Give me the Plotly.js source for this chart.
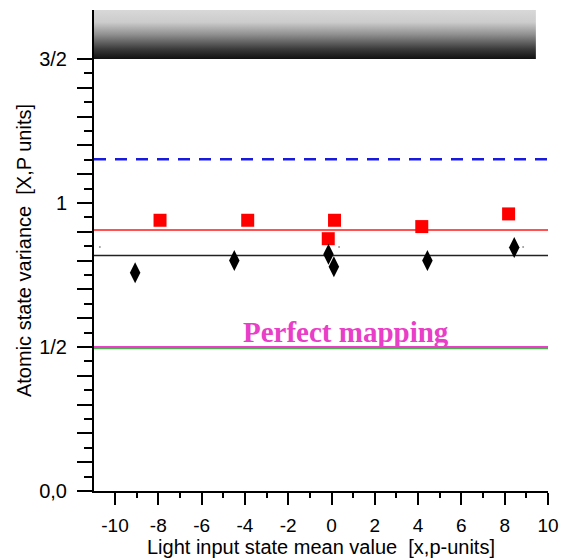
<!DOCTYPE html>
<html><head><meta charset="utf-8">
<script src="https://cdn.plot.ly/plotly-3.0.1.min.js"></script>
<style>html,body{margin:0;padding:0;background:#fff}#chart{width:561px;height:559px}</style>
</head><body><div id="chart"></div>
<script>
// Data
const squaresX = [-7.92, -3.87, 0.14, -0.15, 4.17, 8.18];
const squaresY = [0.940, 0.940, 0.940, 0.876, 0.918, 0.962];
const diamondsX = [-9.07, -4.49, -0.14, 0.11, 4.43, 8.44];
const diamondsY = [0.758, 0.800, 0.822, 0.779, 0.800, 0.845];
const dotsX = [-10.7, 0.35, 8.85];
const dotsY = [0.847, 0.847, 0.847];
const blueLevel = 1.152;
const redLevel = 0.906;
const blackLevel = 0.818;
const perfectLevel = 0.5;
const greenLevel = 0.496;
const xMin = -10.97, xMax = 10.0;
const bandBottom = 1.5, bandTop = 1.67, bandRight = 9.44;
const xTickVals = [-10, -8, -6, -4, -2, 0, 2, 4, 6, 8, 10];
const xTickText = ['-10', '-8', '-6', '-4', '-2', '0', '2', '4', '6', '8', '10'];
const yLabelVals = [0, 0.5, 1, 1.5];
const yLabelText = ['0,0', '1/2', '1', '3/2'];
const annotationText = 'Perfect mapping';

// tick positions (decoration)
const xMinor = [];
for (let v = -11; v <= 10; v += 1) if (v % 2 !== 0 && v > xMin) xMinor.push(v);
const yTickVals = [], yTickText = [], yMinor = [];
for (let i = 0; i <= 30; i++) {
  const v = +(i * 0.05).toFixed(2);
  if (i % 2 === 0) {
    yTickVals.push(v);
    const k = yLabelVals.indexOf(v);
    yTickText.push(k >= 0 ? yLabelText[k] : '');
  } else {
    yMinor.push(v);
  }
}

const hline = (y, color, width, dash) => ({
  type: 'scatter', mode: 'lines', x: [xMin, xMax], y: [y, y],
  line: {color: color, width: width, dash: dash || 'solid'}, hoverinfo: 'skip', showlegend: false
});

const traces = [
  {type: 'scatter', mode: 'lines', x: [xMin, bandRight, bandRight, xMin, xMin],
   y: [bandBottom, bandBottom, bandTop, bandTop, bandBottom], fill: 'toself',
   fillgradient: {type: 'vertical', colorscale: [[0, '#111111'], [0.2, '#3a3a3a'], [0.5, '#909090'], [0.75, '#cccccc'], [1, '#d8d8d8']]},
   line: {width: 0}, showlegend: false, hoverinfo: 'skip'},
  hline(greenLevel, '#4caf50', 2),
  hline(perfectLevel, '#e83ec8', 2),
  hline(blackLevel, '#222222', 1.5),
  hline(redLevel, '#ff1a1a', 1.5),
  hline(blueLevel, '#1a1adc', 2.5, '12px,9px'),
  {type: 'scatter', mode: 'markers', x: dotsX, y: dotsY,
   marker: {symbol: 'circle', size: 2, color: '#999'}, showlegend: false},
  {type: 'scatter', mode: 'markers', x: squaresX, y: squaresY,
   marker: {symbol: 'square', size: 13, color: '#ff0000'}, showlegend: false},
  {type: 'scatter', mode: 'markers', x: diamondsX, y: diamondsY,
   marker: {symbol: 'diamond-tall', size: 15, color: '#000000'}, showlegend: false}
];

const layout = {
  width: 561, height: 559,
  margin: {l: 94, r: 13, t: 10, b: 68},
  paper_bgcolor: '#fff', plot_bgcolor: '#fff',
  showlegend: false,
  font: {family: 'Liberation Sans, Arial, sans-serif', color: '#000'},
  xaxis: {
    range: [xMin, xMax], tickmode: 'array', tickvals: xTickVals, ticktext: xTickText,
    ticks: 'outside', ticklen: 12, tickwidth: 2, tickcolor: '#000', ticklabelstandoff: 4,
    minor: {tickmode: 'array', tickvals: xMinor, ticks: 'outside', ticklen: 5, tickwidth: 2, tickcolor: '#000'},
    showline: true, linecolor: '#000', linewidth: 2, showgrid: false, zeroline: false,
    tickfont: {size: 19}, title: {text: 'Light input state mean value  [x,p-units]', font: {size: 20}, standoff: 2}
  },
  yaxis: {
    range: [0, bandTop], tickmode: 'array', tickvals: yTickVals, ticktext: yTickText,
    ticks: 'outside', ticklen: 15, tickwidth: 2, tickcolor: '#000', ticklabelstandoff: 6,
    minor: {tickmode: 'array', tickvals: yMinor, ticks: 'outside', ticklen: 8, tickwidth: 2, tickcolor: '#000'},
    showline: true, linecolor: '#000', linewidth: 2, showgrid: false, zeroline: false,
    tickfont: {size: 20}, title: {text: 'Atomic state variance  [X,P units]', font: {size: 20}, standoff: 2}
  },
  annotations: [{
    x: 0.67, y: 0.551, xref: 'x', yref: 'y', text: '<b>' + annotationText + '</b>', showarrow: false,
    font: {family: 'Liberation Serif, Times New Roman, serif', size: 29, color: '#e83ec8'}
  }]
};

Plotly.newPlot('chart', traces, layout, {displayModeBar: false, staticPlot: true});
</script></body></html>
